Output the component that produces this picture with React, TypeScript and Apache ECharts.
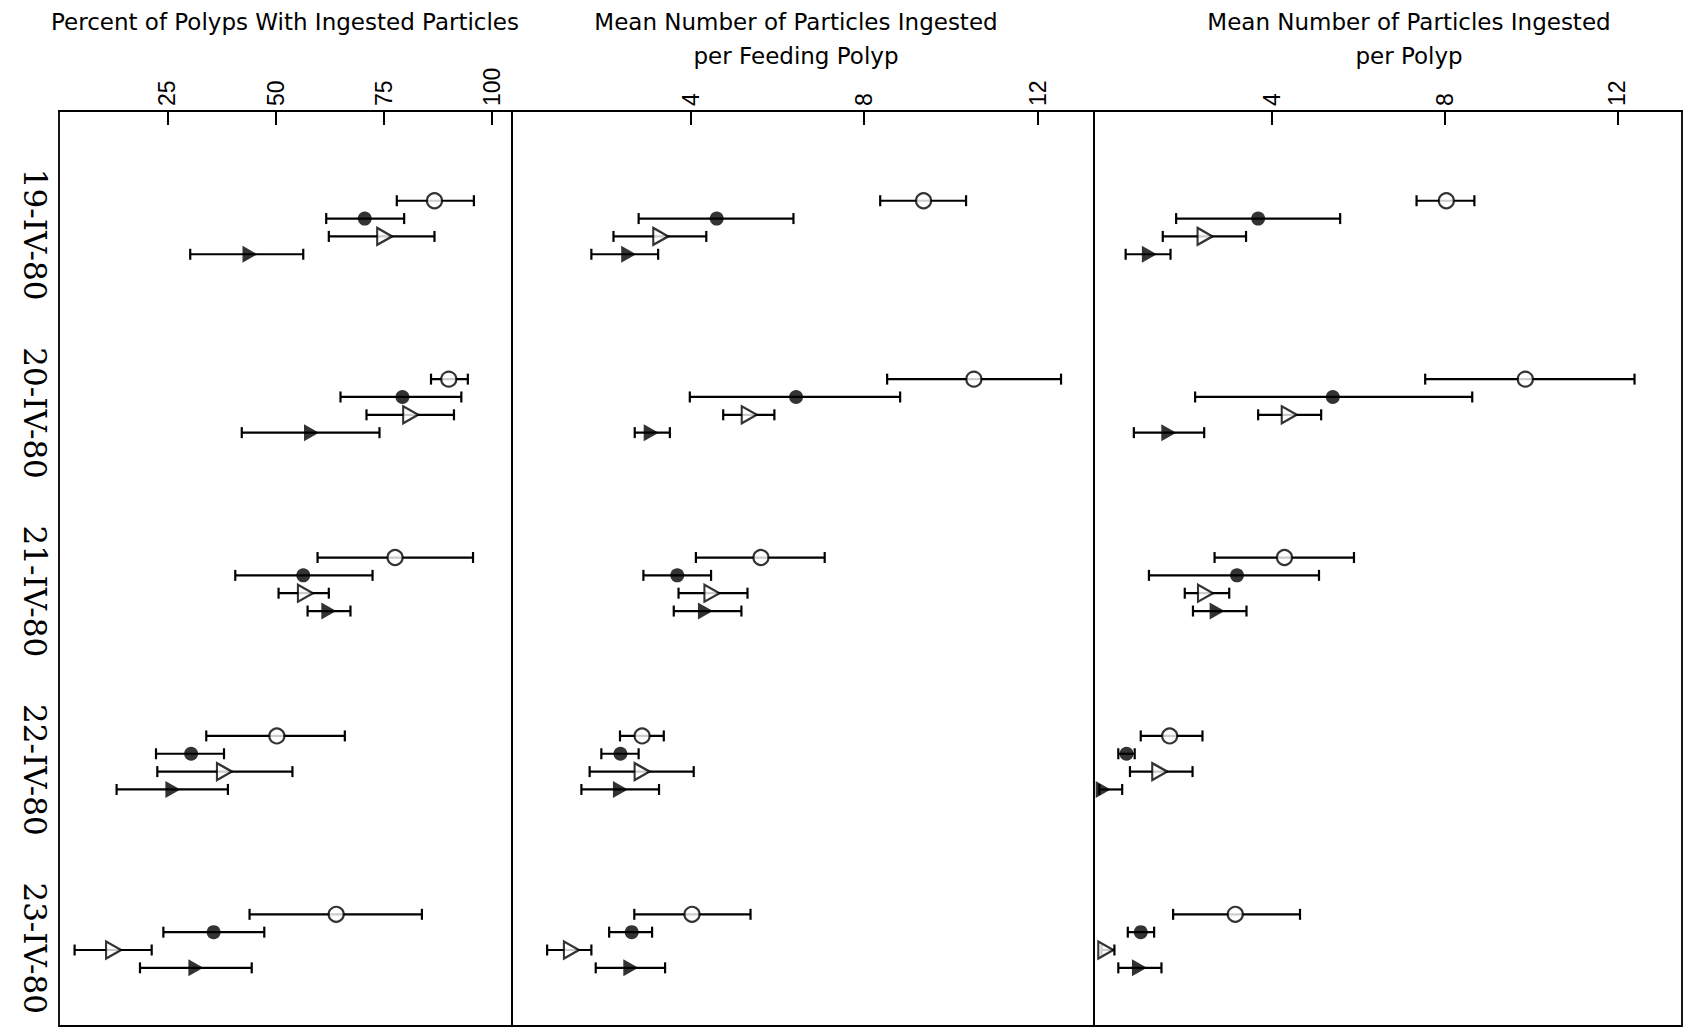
import React, { useEffect, useRef } from "react";
import * as echarts from "echarts";

// ---- categories and tick labels ----
const dates = ["19-IV-80", "20-IV-80", "21-IV-80", "22-IV-80", "23-IV-80"];
const pctTicks = [25, 50, 75, 100];
const meanTicks = [4, 8, 12];
const panelTitles = [
  ["Percent of Polyps With Ingested Particles"],
  ["Mean Number of Particles Ingested", "per Feeding Polyp"],
  ["Mean Number of Particles Ingested", "per Polyp"],
];

// ---- values: [mean, lower, upper] per date ----
// Panel 1: Percent of polyps with ingested particles
const pctOpenCircle = [[86.7, 78.0, 95.8], [90.0, 85.9, 94.4], [77.6, 59.7, 95.6], [50.3, 34.0, 66.0], [64.0, 44.0, 83.8]];
const pctFilledCircle = [[70.6, 61.7, 79.7], [79.3, 65.0, 92.9], [56.4, 40.7, 72.4], [30.5, 22.4, 38.1], [35.7, 24.1, 47.4]];
const pctOpenTriangle = [[75.2, 62.3, 86.7], [81.2, 71.0, 91.2], [56.9, 50.7, 62.3], [38.2, 22.7, 53.9], [12.6, 3.6, 21.4]];
const pctFilledTriangle = [[44.1, 30.3, 56.4], [58.3, 42.2, 74.0], [62.3, 57.4, 67.3], [26.3, 13.3, 39.0], [31.6, 18.7, 44.5]];

// Panel 2: Mean number of particles ingested per feeding polyp
const feedOpenCircle = [[9.37, 8.37, 10.35], [10.53, 8.53, 12.54], [5.62, 4.12, 7.09], [2.88, 2.37, 3.38], [4.03, 2.70, 5.38]];
const feedFilledCircle = [[4.60, 2.80, 6.37], [6.43, 3.98, 8.83], [3.69, 2.91, 4.47], [2.38, 1.94, 2.80], [2.64, 2.12, 3.11]];
const feedOpenTriangle = [[3.31, 2.22, 4.36], [5.35, 4.75, 5.93], [4.49, 3.72, 5.31], [2.88, 1.67, 4.07], [1.25, 0.69, 1.71]];
const feedFilledTriangle = [[2.57, 1.71, 3.25], [3.09, 2.71, 3.52], [4.34, 3.61, 5.17], [2.38, 1.48, 3.27], [2.62, 1.81, 3.41]];

// Panel 3: Mean number of particles ingested per polyp
const allOpenCircle = [[8.04, 7.35, 8.69], [9.87, 7.55, 12.40], [4.29, 2.67, 5.90], [1.63, 0.96, 2.39], [3.15, 1.71, 4.65]];
const allFilledCircle = [[3.68, 1.78, 5.58], [5.41, 2.22, 8.64], [3.19, 1.15, 5.09], [0.63, 0.44, 0.82], [0.96, 0.66, 1.27]];
const allOpenTriangle = [[2.45, 1.47, 3.40], [4.40, 3.68, 5.14], [2.46, 1.98, 3.01], [1.40, 0.71, 2.16], [0.15, 0.05, 0.35]];
const allFilledTriangle = [[1.16, 0.61, 1.65], [1.61, 0.80, 2.43], [2.73, 2.17, 3.41], [0.09, 0.0, 0.53], [0.93, 0.44, 1.44]];

const panelData = [
  [pctOpenCircle, pctFilledCircle, pctOpenTriangle, pctFilledTriangle],
  [feedOpenCircle, feedFilledCircle, feedOpenTriangle, feedFilledTriangle],
  [allOpenCircle, allFilledCircle, allOpenTriangle, allFilledTriangle],
];
const seriesNames = ["Open circle", "Filled circle", "Open triangle", "Filled triangle"];

// ---- layout / style (not data) ----
const rowOffsets = [-0.15, -0.05, 0.05, 0.15];
const yMin = -0.653;
const yMax = 4.476;
const gridTop = 111;
const gridHeight = 915;
const grids = [
  { left: 59, width: 453, min: 0, max: 104.6, ticks: pctTicks },
  { left: 512, width: 582, min: -0.12, max: 13.3, ticks: meanTicks },
  { left: 1094, width: 588, min: -0.123, max: 13.5, ticks: meanTicks },
];
const titleCenters = [285, 796, 1409];
const TRI = "path://M0,0L13,7.5L0,15Z";
const markerStyles = [
  { symbol: "circle", symbolSize: 15, itemStyle: { color: "#fff", borderColor: "#000", borderWidth: 2.2 } },
  { symbol: "circle", symbolSize: 14, itemStyle: { color: "#000", borderColor: "#000", borderWidth: 0 } },
  { symbol: TRI, symbolSize: [15, 17], itemStyle: { color: "#fff", borderColor: "#000", borderWidth: 2.2 } },
  { symbol: TRI, symbolSize: [15, 17], itemStyle: { color: "#000", borderColor: "#000", borderWidth: 0 } },
];

function buildOption() {
  const grid = grids.map((g) => ({
    show: true,
    left: g.left,
    top: gridTop,
    width: g.width,
    height: gridHeight,
    borderColor: "#000",
    borderWidth: 1.8,
    backgroundColor: "transparent",
    containLabel: false,
  }));

  const xAxis = grids.map((g, k) => ({
    gridIndex: k,
    type: "value",
    position: "top",
    min: g.min,
    max: g.max,
    axisLine: { show: true, onZero: false, lineStyle: { color: "#000", width: 2.2 } },
    axisTick: { show: true, inside: true, length: 14, customValues: g.ticks, lineStyle: { color: "#000", width: 2 } },
    axisLabel: {
      show: true,
      rotate: -90,
      customValues: g.ticks,
      margin: 5,
      color: "#000",
      fontSize: 23,
      fontFamily: "Liberation Sans",
    },
    splitLine: { show: false },
  }));

  const yAxis = grids.map((g, k) => ({
    gridIndex: k,
    type: "value",
    inverse: true,
    min: yMin,
    max: yMax,
    axisLine: { show: false, onZero: false },
    axisTick: { show: false },
    splitLine: { show: false },
    axisLabel:
      k === 0
        ? {
            show: true,
            rotate: -90,
            customValues: dates.map((_, i) => i + 0.04),
            formatter: (v: number) => dates[Math.round(v)] ?? "",
            margin: 9,
            color: "#000",
            fontSize: 31,
            fontFamily: "DejaVu Serif",
          }
        : { show: false },
  }));

  const series: any[] = [];
  panelData.forEach((panel, k) => {
    panel.forEach((arr, j) => {
      series.push({
        name: seriesNames[j] + " error",
        type: "custom",
        xAxisIndex: k,
        yAxisIndex: k,
        silent: true,
        z: 2,
        encode: { x: [0, 1], y: 2 },
        data: arr.map((d, i) => [d[1], d[2], i + rowOffsets[j]]),
        renderItem: (params: any, api: any) => {
          const p1 = api.coord([api.value(0), api.value(2)]);
          const p2 = api.coord([api.value(1), api.value(2)]);
          const h = 5.5;
          const style = { stroke: "#000", lineWidth: 2.2 };
          return {
            type: "group",
            children: [
              { type: "line", shape: { x1: p1[0], y1: p1[1], x2: p2[0], y2: p2[1] }, style },
              { type: "line", shape: { x1: p1[0], y1: p1[1] - h, x2: p1[0], y2: p1[1] + h }, style },
              { type: "line", shape: { x1: p2[0], y1: p2[1] - h, x2: p2[0], y2: p2[1] + h }, style },
            ],
          };
        },
      });
      series.push({
        name: seriesNames[j],
        type: "scatter",
        xAxisIndex: k,
        yAxisIndex: k,
        z: 3,
        silent: true,
        ...markerStyles[j],
        data: arr.map((d, i) => [d[0], i + rowOffsets[j]]),
      });
    });
  });

  const titleFont = "23px 'DejaVu Sans'";
  const graphic: any[] = [];
  panelTitles.forEach((lines, k) => {
    lines.forEach((line, li) => {
      graphic.push({
        type: "text",
        x: titleCenters[k],
        y: 22 + li * 33.5,
        silent: true,
        style: {
          text: line,
          font: titleFont,
          fill: "#000",
          textAlign: "center",
          textVerticalAlign: "middle",
        },
      });
    });
  });

  return {
    animation: false,
    backgroundColor: "#fff",
    grid,
    xAxis,
    yAxis,
    series,
    graphic,
  };
}

export default function App() {
  const ref = useRef<HTMLDivElement>(null);
  useEffect(() => {
    if (!ref.current) return;
    const chart = echarts.init(ref.current, null, { renderer: "svg" });
    chart.setOption(buildOption() as any);
    return () => chart.dispose();
  }, []);
  return (
    <div
      ref={ref}
      style={{ position: "fixed", left: 0, top: 0, width: "1684px", height: "1029px", background: "#fff" }}
    />
  );
}
